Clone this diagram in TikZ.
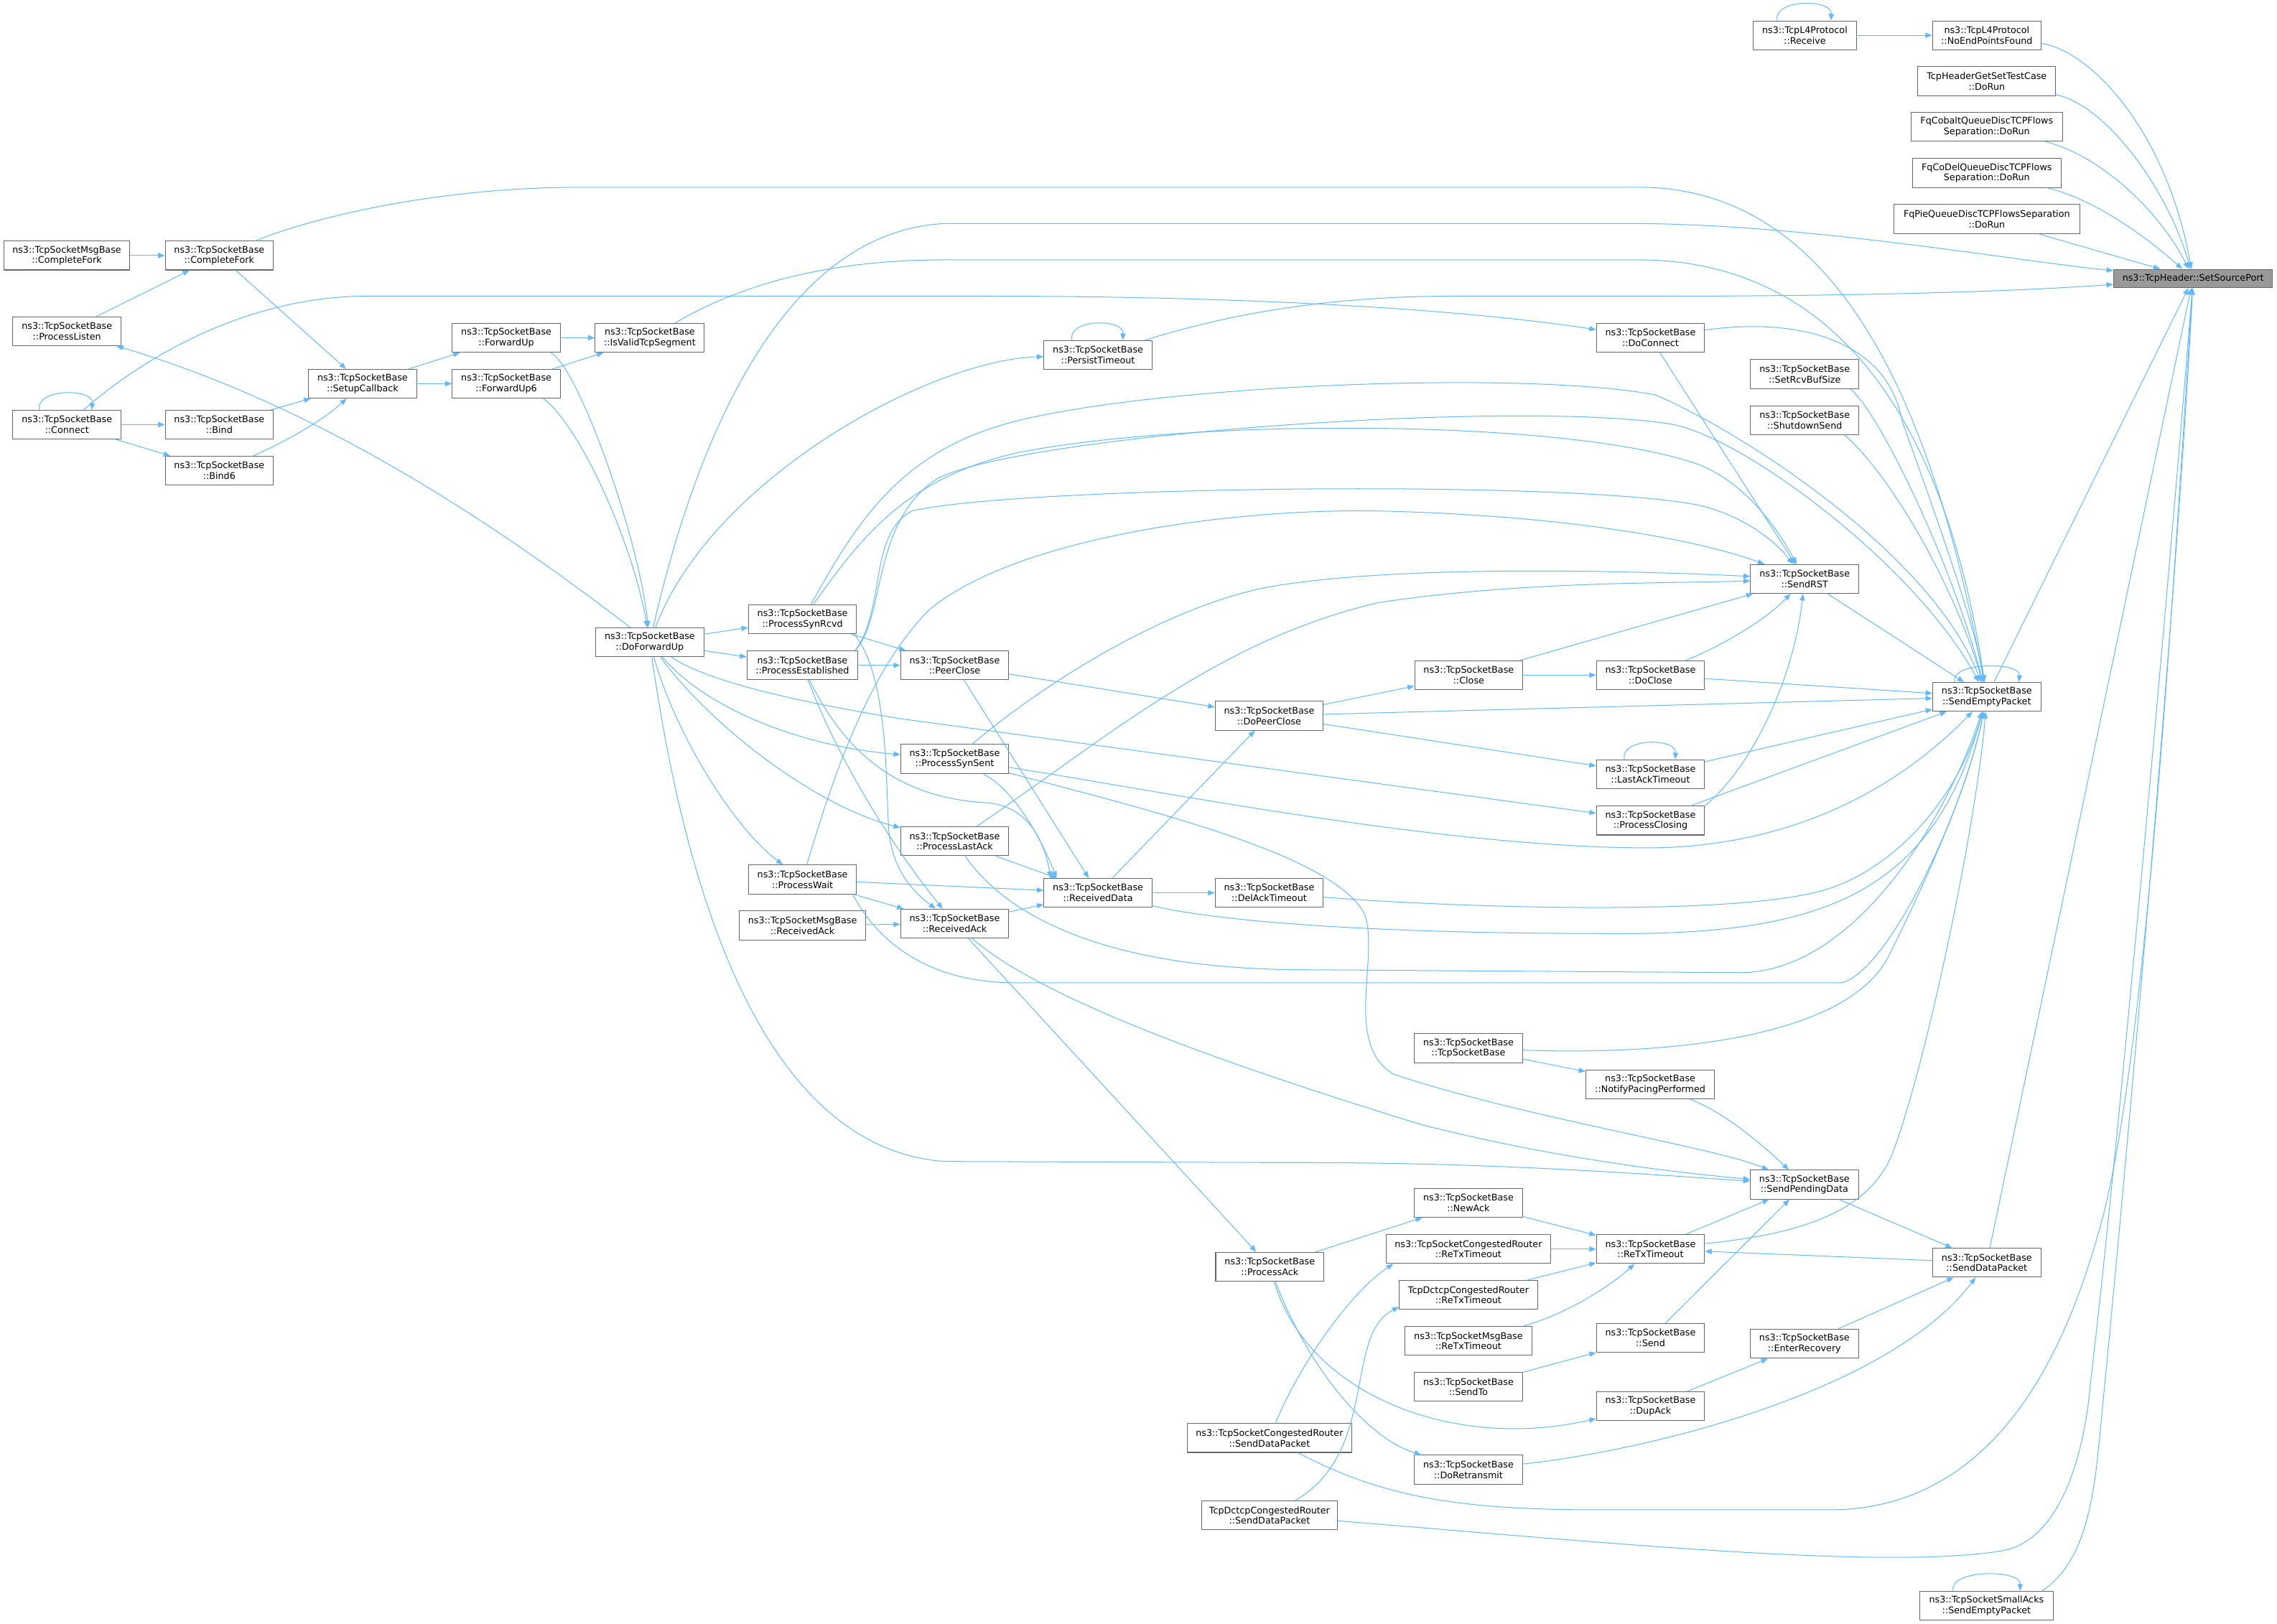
\documentclass[tikz,border=0pt]{standalone}
\usepackage{fontspec}
\setmainfont{DejaVu Sans}
\usepackage{pgf,tikz}
\usetikzlibrary{arrows.meta}
\definecolor{edgeblue}{HTML}{63B8FF}
\definecolor{boxgray}{HTML}{666666}
\definecolor{rootgray}{HTML}{999999}
\tikzset{
  fnode/.style={draw=boxgray,fill=white,line width=0.5pt,inner xsep=1pt,inner ysep=0pt,
    minimum width=74.5pt,minimum height=19.9pt,align=center,font=\fontsize{6.3}{7.3}\selectfont},
  rootnode/.style={fnode,fill=rootgray,minimum width=109.6pt,minimum height=12.6pt},
  calls/.style={->,draw=edgeblue,line width=0.5pt}
}
\begin{document}
\begin{tikzpicture}[line cap=round,line join=round,>={Triangle[length=4.6pt,width=3.6pt]},x=1pt,y=-1pt]
\useasboundingbox (0,0) rectangle (1568.2,1118.2);
\node[fnode,minimum width=70.9pt] (l4Receive) at (1243,24.3) {ns3::TcpL4Protocol\\::Receive};
\node[fnode,minimum width=74.7pt] (noEndPoints) at (1368.3,24.3) {ns3::TcpL4Protocol\\::NoEndPointsFound};
\node[fnode,minimum width=95.1pt] (getSetTest) at (1368.3,55.9) {TcpHeaderGetSetTestCase\\::DoRun};
\node[fnode,minimum width=104.4pt] (fqCobalt) at (1368.3,87.4) {FqCobaltQueueDiscTCPFlows\\Separation::DoRun};
\node[fnode,minimum width=102.4pt] (fqCoDel) at (1368.3,119.2) {FqCoDelQueueDiscTCPFlows\\Separation::DoRun};
\node[fnode,minimum width=128.3pt] (fqPie) at (1368.3,150.8) {FqPieQueueDiscTCPFlowsSeparation\\::DoRun};
\node[rootnode] (setSourcePort) at (1510.4,191.8) {ns3::TcpHeader::SetSourcePort};
\node[fnode,minimum width=87pt] (msgCompleteFork) at (46,176) {ns3::TcpSocketMsgBase\\::CompleteFork};
\node[fnode] (completeFork) at (151,176) {ns3::TcpSocketBase\\::CompleteFork};
\node[fnode] (processListen) at (46.1,228.1) {ns3::TcpSocketBase\\::ProcessListen};
\node[fnode] (connect) at (46.1,292.5) {ns3::TcpSocketBase\\::Connect};
\node[fnode] (bind) at (151,292.5) {ns3::TcpSocketBase\\::Bind};
\node[fnode] (bind6) at (151,324.2) {ns3::TcpSocketBase\\::Bind6};
\node[fnode] (setupCallback) at (249.7,264.3) {ns3::TcpSocketBase\\::SetupCallback};
\node[fnode] (forwardUp) at (348.7,232.7) {ns3::TcpSocketBase\\::ForwardUp};
\node[fnode] (forwardUp6) at (348.7,264.3) {ns3::TcpSocketBase\\::ForwardUp6};
\node[fnode,minimum width=75.2pt] (isValid) at (447.5,232.7) {ns3::TcpSocketBase\\::IsValidTcpSegment};
\node[fnode] (doForwardUp) at (447.5,442.5) {ns3::TcpSocketBase\\::DoForwardUp};
\node[fnode] (processSynRcvd) at (552.7,426.6) {ns3::TcpSocketBase\\::ProcessSynRcvd};
\node[fnode,minimum width=76.3pt] (processEstablished) at (552.6,458.3) {ns3::TcpSocketBase\\::ProcessEstablished};
\node[fnode] (processWait) at (552.7,605.8) {ns3::TcpSocketBase\\::ProcessWait};
\node[fnode,minimum width=87.1pt] (msgReceivedAck) at (552.7,637.5) {ns3::TcpSocketMsgBase\\::ReceivedAck};
\node[fnode] (peerClose) at (657.5,458.3) {ns3::TcpSocketBase\\::PeerClose};
\node[fnode] (processSynSent) at (657.5,522.7) {ns3::TcpSocketBase\\::ProcessSynSent};
\node[fnode] (processLastAck) at (657.5,579.5) {ns3::TcpSocketBase\\::ProcessLastAck};
\node[fnode] (receivedAck) at (657.5,636.2) {ns3::TcpSocketBase\\::ReceivedAck};
\node[fnode] (persistTimeout) at (756.2,244.5) {ns3::TcpSocketBase\\::PersistTimeout};
\node[fnode] (receivedData) at (756.2,615) {ns3::TcpSocketBase\\::ReceivedData};
\node[fnode] (doPeerClose) at (874.1,493) {ns3::TcpSocketBase\\::DoPeerClose};
\node[fnode] (delAckTimeout) at (874.1,615) {ns3::TcpSocketBase\\::DelAckTimeout};
\node[fnode] (processAck) at (874.5,872.5) {ns3::TcpSocketBase\\::ProcessAck};
\node[fnode,minimum width=113.4pt] (congSendData) at (874.3,990.5) {ns3::TcpSocketCongestedRouter\\::SendDataPacket};
\node[fnode,minimum width=93.6pt] (dctcpSendData) at (874.3,1043.8) {TcpDctcpCongestedRouter\\::SendDataPacket};
\node[fnode] (close) at (1011.5,465) {ns3::TcpSocketBase\\::Close};
\node[fnode] (tcpSocketBase) at (1011.3,722) {ns3::TcpSocketBase\\::TcpSocketBase};
\node[fnode] (newAck) at (1011.3,828.5) {ns3::TcpSocketBase\\::NewAck};
\node[fnode,minimum width=113pt] (congReTx) at (1011.3,860.4) {ns3::TcpSocketCongestedRouter\\::ReTxTimeout};
\node[fnode,minimum width=95.2pt] (dctcpReTx) at (1011.3,892) {TcpDctcpCongestedRouter\\::ReTxTimeout};
\node[fnode,minimum width=87.2pt] (msgReTx) at (1011.3,923.7) {ns3::TcpSocketMsgBase\\::ReTxTimeout};
\node[fnode] (sendTo) at (1011.3,955.3) {ns3::TcpSocketBase\\::SendTo};
\node[fnode] (doRetransmit) at (1011.3,1012.3) {ns3::TcpSocketBase\\::DoRetransmit};
\node[fnode] (doConnect) at (1136.7,232.7) {ns3::TcpSocketBase\\::DoConnect};
\node[fnode] (doClose) at (1136.7,465) {ns3::TcpSocketBase\\::DoClose};
\node[fnode] (lastAckTimeout) at (1136.7,533.3) {ns3::TcpSocketBase\\::LastAckTimeout};
\node[fnode] (processClosing) at (1136.7,565.2) {ns3::TcpSocketBase\\::ProcessClosing};
\node[fnode,minimum width=88.7pt] (notifyPacing) at (1136.5,747) {ns3::TcpSocketBase\\::NotifyPacingPerformed};
\node[fnode] (reTxTimeout) at (1136.7,860.4) {ns3::TcpSocketBase\\::ReTxTimeout};
\node[fnode] (send) at (1136.7,921.6) {ns3::TcpSocketBase\\::Send};
\node[fnode] (dupAck) at (1136.7,968.6) {ns3::TcpSocketBase\\::DupAck};
\node[fnode] (setRcvBufSize) at (1242.9,257.7) {ns3::TcpSocketBase\\::SetRcvBufSize};
\node[fnode] (shutdownSend) at (1242.9,289.5) {ns3::TcpSocketBase\\::ShutdownSend};
\node[fnode] (sendRST) at (1242.9,398.8) {ns3::TcpSocketBase\\::SendRST};
\node[fnode] (sendPendingData) at (1242.7,816) {ns3::TcpSocketBase\\::SendPendingData};
\node[fnode] (enterRecovery) at (1242.7,925.7) {ns3::TcpSocketBase\\::EnterRecovery};
\node[fnode] (sendEmptyPacket) at (1368.3,480) {ns3::TcpSocketBase\\::SendEmptyPacket};
\node[fnode] (sendDataPacket) at (1368.3,869.8) {ns3::TcpSocketBase\\::SendDataPacket};
\node[fnode,minimum width=92.2pt] (smallAcks) at (1368.1,1106) {ns3::TcpSocketSmallAcks\\::SendEmptyPacket};
\draw[calls] (l4Receive) -- (noEndPoints);
\draw[calls] ([xshift=-19pt]l4Receive.north) .. controls +(-3,-15) and +(1,-15) .. ([xshift=18pt]l4Receive.north);
\draw[calls] (noEndPoints) .. controls (1440,35) and (1492,90) .. (setSourcePort);
\draw[calls] (getSetTest) .. controls (1450,72) and (1493,130) .. (setSourcePort);
\draw[calls] (fqCobalt) .. controls (1450,108) and (1490,150) .. (setSourcePort);
\draw[calls] (fqCoDel) .. controls (1445,138) and (1480,165) .. (setSourcePort);
\draw[calls] (fqPie) -- (setSourcePort);
\draw[calls] (msgCompleteFork) -- (completeFork);
\draw[calls] (processListen) -- (completeFork);
\draw[calls] (completeFork) -- (setupCallback);
\draw[calls] ([xshift=-19pt]connect.north) .. controls +(-3,-15) and +(2,-15) .. ([xshift=17pt]connect.north);
\draw[calls] (connect) -- (bind);
\draw[calls] (connect) -- (bind6);
\draw[calls] (bind) -- (setupCallback);
\draw[calls] (bind6) .. controls (195,305) and (222,290) .. (setupCallback);
\draw[calls] (setupCallback) -- (forwardUp);
\draw[calls] (setupCallback) -- (forwardUp6);
\draw[calls] (forwardUp) -- (isValid);
\draw[calls] (forwardUp6) -- (isValid);
\draw[calls] ([xshift=-7pt]forwardUp.south east) .. controls (398,252) and (440,370) .. (doForwardUp);
\draw[calls] ([xshift=-12pt]forwardUp6.south east) .. controls (400,294) and (436,375) .. (doForwardUp);
\draw[calls] (doForwardUp) .. controls (340,360) and (220,280) .. (processListen);
\draw[calls] (connect) .. controls (100,245) and (170,205) .. (250,204) -- (680,204) .. controls (850,204) and (1000,212) .. (doConnect);
\draw[calls] (doForwardUp) .. controls (480,300) and (540,160) .. (650,154) -- (1130,154) .. controls (1250,155) and (1390,180) .. (setSourcePort);
\draw[calls] (isValid) .. controls (510,196) and (570,179) .. (650,179) -- (1130,179) .. controls (1265,180) and (1340,290) .. (sendEmptyPacket);
\draw[calls] (completeFork) .. controls (215,150) and (300,129) .. (400,129) -- (1130,129) .. controls (1275,130) and (1335,300) .. (sendEmptyPacket);
\draw[calls] (doForwardUp) .. controls (490,330) and (640,248) .. (persistTimeout);
\draw[calls] ([xshift=-18pt]persistTimeout.north) .. controls +(-3,-15) and +(1,-15) .. ([xshift=17pt]persistTimeout.north);
\draw[calls] (persistTimeout) .. controls (850,215) and (920,204) .. (1000,204) -- (1140,204) .. controls (1300,204) and (1400,200) .. (setSourcePort);
\draw[calls] (doForwardUp) -- (processSynRcvd);
\draw[calls] (doForwardUp) -- (processEstablished);
\draw[calls] (doForwardUp) .. controls (490,492) and (560,515) .. (processSynSent);
\draw[calls] (doForwardUp) .. controls (488,498) and (560,555) .. (processLastAck);
\draw[calls] (doForwardUp) .. controls (465,505) and (505,570) .. (processWait);
\draw[calls] (doForwardUp) .. controls (485,468) and (540,482) .. (620,495) -- (processClosing);
\draw[calls] (doForwardUp) .. controls (470,600) and (520,790) .. (650,800) -- (930,801) .. controls (1050,802) and (1150,810) .. (sendPendingData);
\draw[calls] (processSynRcvd) -- (peerClose);
\draw[calls] (processEstablished) -- (peerClose);
\draw[calls] ([xshift=-2pt]processSynRcvd.south east) .. controls (612,465) and (610,540) .. (612,570) .. controls (614,600) and (630,615) .. (receivedAck);
\draw[calls] (processEstablished) .. controls (580,530) and (620,590) .. (receivedAck);
\draw[calls] (processEstablished) .. controls (585,525) and (625,550) .. (680,553) .. controls (712,556) and (720,585) .. ([xshift=5pt]receivedData.north west);
\draw[calls] (processSynSent) .. controls (700,545) and (718,580) .. ([xshift=9pt]receivedData.north west);
\draw[calls] (peerClose) -- (receivedData);
\draw[calls] (peerClose) -- (doPeerClose);
\draw[calls] (processLastAck) -- (receivedData);
\draw[calls] (processWait) -- (receivedData);
\draw[calls] (processWait) -- (receivedAck);
\draw[calls] (msgReceivedAck) -- (receivedAck);
\draw[calls] (receivedAck) -- (receivedData);
\draw[calls] (receivedData) -- (delAckTimeout);
\draw[calls] (receivedData) -- (doPeerClose);
\draw[calls] (doPeerClose) -- (close);
\draw[calls] (doPeerClose) -- (lastAckTimeout);
\draw[calls] (doPeerClose) -- (sendEmptyPacket);
\draw[calls] (close) -- (doClose);
\draw[calls] (close) -- (sendRST);
\draw[calls] (doClose) .. controls (1185,445) and (1215,428) .. (sendRST);
\draw[calls] (doClose) -- (sendEmptyPacket);
\draw[calls] ([xshift=-18pt]lastAckTimeout.north) .. controls +(-3,-15) and +(1,-15) .. ([xshift=17pt]lastAckTimeout.north);
\draw[calls] (lastAckTimeout) -- (sendEmptyPacket);
\draw[calls] (processClosing) -- (sendEmptyPacket);
\draw[calls] (processClosing.north east) .. controls (1205,530) and (1235,470) .. (sendRST);
\draw[calls] (sendRST) -- (sendEmptyPacket);
\draw[calls] (doConnect) -- (sendRST);
\draw[calls] (doConnect) .. controls (1240,218) and (1300,235) .. (1310,290) .. controls (1335,360) and (1360,430) .. (sendEmptyPacket);
\draw[calls] ([xshift=-6pt]setRcvBufSize.south east) .. controls (1295,285) and (1345,390) .. (sendEmptyPacket);
\draw[calls] ([xshift=-10pt]shutdownSend.south east) .. controls (1300,325) and (1345,400) .. (sendEmptyPacket);
\draw[calls] ([xshift=-22pt]sendEmptyPacket.north) .. controls +(-4,-14) and +(2,-14) .. ([xshift=22pt]sendEmptyPacket.north);
\draw[calls] (sendEmptyPacket) -- (setSourcePort);
\draw[calls] (processSynRcvd) .. controls (590,360) and (620,310) .. (700,290) .. controls (800,265) and (1050,255) .. (1140,272) .. controls (1195,295) and (1330,380) .. (sendEmptyPacket);
\draw[calls] (processSynRcvd) .. controls (592,372) and (622,330) .. (700,312) .. controls (820,288) and (1080,288) .. (1170,320) .. controls (1200,332) and (1222,360) .. (sendRST);
\draw[calls] ([xshift=-2pt]processEstablished.north east) .. controls (610,425) and (600,360) .. (645,330) .. controls (700,300) and (1040,275) .. (1150,292) .. controls (1200,300) and (1320,390) .. (sendEmptyPacket);
\draw[calls] ([xshift=-2pt]processEstablished.north east) .. controls (610,420) and (598,368) .. (628,352) .. controls (700,335) and (1080,330) .. (1170,348) .. controls (1200,355) and (1222,372) .. (sendRST);
\draw[calls] (processWait) .. controls (575,530) and (600,460) .. (640,420) .. controls (700,370) and (850,350) .. (950,352) .. controls (1080,355) and (1170,372) .. (sendRST);
\draw[calls] (processSynSent) .. controls (720,470) and (800,420) .. (870,405) .. controls (950,390) and (1100,392) .. (sendRST);
\draw[calls] (processLastAck) .. controls (760,510) and (840,440) .. (950,415) .. controls (1050,400) and (1150,402) .. (sendRST);
\draw[calls] (processSynSent) .. controls (800,545) and (1000,585) .. (1140,584) .. controls (1240,582) and (1310,540) .. (sendEmptyPacket);
\draw[calls] (processSynSent) .. controls (800,560) and (920,590) .. (940,630) .. controls (950,660) and (925,720) .. (960,740) .. controls (1050,770) and (1180,790) .. (sendPendingData);
\draw[calls] (processLastAck) .. controls (700,640) and (780,668) .. (900,668) -- (1200,670) .. controls (1280,668) and (1342,560) .. (sendEmptyPacket);
\draw[calls] ([xshift=-3pt]processWait.south east) .. controls (600,640) and (630,677) .. (700,677) -- (1268,677) .. controls (1300,670) and (1352,560) .. (sendEmptyPacket);
\draw[calls] (receivedData) .. controls (840,635) and (950,643) .. (1100,643) .. controls (1250,645) and (1330,620) .. (sendEmptyPacket);
\draw[calls] (delAckTimeout) .. controls (1000,625) and (1200,632) .. (1260,612) .. controls (1310,595) and (1350,545) .. (sendEmptyPacket);
\draw[calls] (tcpSocketBase) .. controls (1150,727) and (1270,715) .. (1300,660) .. controls (1330,600) and (1356,540) .. (sendEmptyPacket);
\draw[calls] (tcpSocketBase) -- (notifyPacing);
\draw[calls] (notifyPacing) .. controls (1185,765) and (1210,785) .. (sendPendingData);
\draw[calls] (receivedAck) .. controls (720,690) and (850,735) .. (980,775) .. controls (1080,800) and (1160,808) .. (sendPendingData);
\draw[calls] (reTxTimeout) -- (sendPendingData);
\draw[calls] (send) -- (sendPendingData);
\draw[calls] (sendPendingData) -- (sendDataPacket);
\draw[calls] (sendDataPacket) -- (reTxTimeout);
\draw[calls] (newAck) -- (reTxTimeout);
\draw[calls] (congReTx) -- (reTxTimeout);
\draw[calls] (dctcpReTx) -- (reTxTimeout);
\draw[calls] (msgReTx) .. controls (1080,905) and (1110,885) .. (reTxTimeout);
\draw[calls] (reTxTimeout) .. controls (1240,850) and (1290,835) .. (1305,790) .. controls (1330,720) and (1362,560) .. (sendEmptyPacket);
\draw[calls] (sendTo) -- (send);
\draw[calls] (dupAck) -- (enterRecovery);
\draw[calls] (enterRecovery) -- (sendDataPacket);
\draw[calls] (doRetransmit) .. controls (1130,1000) and (1300,960) .. (sendDataPacket);
\draw[calls] (processAck) -- (newAck);
\draw[calls] (processAck) .. controls (900,960) and (1000,1000) .. (dupAck);
\draw[calls] (processAck) .. controls (900,940) and (940,990) .. (doRetransmit);
\draw[calls] (receivedAck) -- (processAck);
\draw[calls] (congSendData) .. controls (895,940) and (930,890) .. ([xshift=5pt]congReTx.south west);
\draw[calls] (dctcpSendData) .. controls (950,1000) and (925,920) .. ([yshift=2pt]dctcpReTx.south west);
\draw[calls] (congSendData) .. controls (950,1030) and (1000,1040) .. (1100,1040) -- (1260,1040) .. controls (1380,1040) and (1425,920) .. (1445,850) .. controls (1478,740) and (1497,400) .. (setSourcePort);
\draw[calls] (dctcpSendData) .. controls (1100,1062) and (1300,1082) .. (1380,1068) .. controls (1420,1060) and (1436,1000) .. (1440,950) .. controls (1458,800) and (1494,400) .. (setSourcePort);
\draw[calls] ([xshift=-23pt]smallAcks.north) .. controls +(-3,-15) and +(1,-15) .. ([xshift=23pt]smallAcks.north);
\draw[calls] ([xshift=-8pt]smallAcks.north east) .. controls (1430,1080) and (1440,1050) .. (1445,1000) .. controls (1465,800) and (1500,400) .. (setSourcePort);
\draw[calls] (sendDataPacket) -- (setSourcePort);
\end{tikzpicture}
\end{document}
